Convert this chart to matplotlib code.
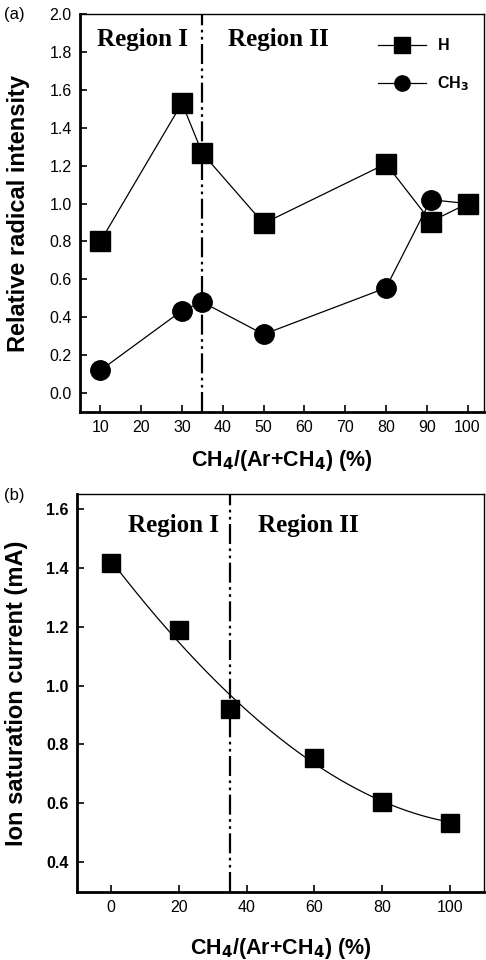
import numpy as np
import matplotlib
matplotlib.use("Agg")
import matplotlib.pyplot as plt
from matplotlib.lines import Line2D

# ---- data panel (a) ----
x_a = [10, 30, 35, 50, 80, 91, 100]
h_vals = [0.80, 1.53, 1.265, 0.895, 1.21, 0.905, 1.0]
ch3_vals = [0.12, 0.435, 0.48, 0.31, 0.555, 1.02, 1.0]
xticks_a = [10, 20, 30, 40, 50, 60, 70, 80, 90, 100]
yticks_a = [0.0, 0.2, 0.4, 0.6, 0.8, 1.0, 1.2, 1.4, 1.6, 1.8, 2.0]

# ---- data panel (b) ----
x_b = [0, 20, 35, 60, 80, 100]
ion_vals = [1.415, 1.19, 0.92, 0.755, 0.605, 0.535]
xticks_b = [0, 20, 40, 60, 80, 100]
yticks_b = [0.4, 0.6, 0.8, 1.0, 1.2, 1.4, 1.6]

boundary = 35

plt.rcParams['font.family'] = ['Liberation Sans', 'DejaVu Sans']

fig = plt.figure(figsize=(4.86, 9.6), dpi=100)
axa = fig.add_axes([0.1646, 0.5708, 0.831, 0.4146])
axb = fig.add_axes([0.1584, 0.0711, 0.8374, 0.4143])

dd = (9, 2, 1.2, 2, 1.2, 2)

# panel a
axa.plot(x_a, h_vals, color='black', lw=0.9, marker='s', ms=14, mfc='black', mec='black', zorder=3)
axa.plot(x_a, ch3_vals, color='black', lw=0.9, marker='o', ms=14, mfc='black', mec='black', zorder=3)
axa.axvline(boundary, color='black', lw=1.6, dashes=dd, zorder=2)
axa.set_xlim(5, 104)
axa.set_ylim(-0.1, 2.0)
axa.set_xticks(xticks_a)
axa.set_yticks(yticks_a)
axa.set_xticklabels([str(v) for v in xticks_a])
axa.set_yticklabels([f"{v:.1f}" for v in yticks_a])
axa.tick_params(direction='in', length=5, width=1.2, labelsize=11.5, pad=6)
axa.set_ylabel('Relative radical intensity', fontsize=17, fontweight='bold', labelpad=14)
axa.set_xlabel('CH$_\\mathbf{4}$/(Ar+CH$_\\mathbf{4}$) (%)', fontsize=15.5, fontweight='bold', labelpad=9)
axa.text(0.042, 0.935, 'Region I', transform=axa.transAxes, fontsize=18, fontweight='bold',
         family='Liberation Serif', va='center', ha='left')
axa.text(0.366, 0.935, 'Region II', transform=axa.transAxes, fontsize=18, fontweight='bold',
         family='Liberation Serif', va='center', ha='left')
handles = [Line2D([], [], color='black', lw=0.9, marker='s', ms=11),
           Line2D([], [], color='black', lw=0.9, marker='o', ms=11)]
axa.legend(handles, ['H', 'CH$_\\mathbf{3}$'], loc='upper right', frameon=False,
           handlelength=3.0, prop={'weight': 'bold', 'size': 11.5},
           bbox_to_anchor=(1.0, 0.975), labelspacing=1.3, handletextpad=0.7)

# panel b
coef = np.polyfit(x_b, ion_vals, 3)
xs = np.linspace(min(x_b), max(x_b), 200)
axb.plot(xs, np.polyval(coef, xs), color='black', lw=0.9, zorder=2)
axb.plot(x_b, ion_vals, ls='none', marker='s', ms=13, mfc='black', mec='black', zorder=3)
axb.axvline(boundary, color='black', lw=1.6, dashes=dd, zorder=2)
axb.set_xlim(-10, 110)
axb.set_ylim(0.3, 1.65)
axb.set_xticks(xticks_b)
axb.set_yticks(yticks_b)
axb.set_xticklabels([str(v) for v in xticks_b])
axb.set_yticklabels([f"{v:.1f}" for v in yticks_b], fontweight='bold')
axb.tick_params(direction='in', length=5, width=1.2, labelsize=11.5, pad=6)
axb.set_ylabel('Ion saturation current (mA)', fontsize=17, fontweight='bold', labelpad=13)
axb.set_xlabel('CH$_\\mathbf{4}$/(Ar+CH$_\\mathbf{4}$) (%)', fontsize=15.5, fontweight='bold', labelpad=15)
axb.text(0.125, 0.92, 'Region I', transform=axb.transAxes, fontsize=18, fontweight='bold',
         family='Liberation Serif', va='center', ha='left')
axb.text(0.445, 0.92, 'Region II', transform=axb.transAxes, fontsize=18, fontweight='bold',
         family='Liberation Serif', va='center', ha='left')

for ax in (axa, axb):
    for s in ('top', 'right'):
        ax.spines[s].set_linewidth(1.0)
    for s in ('left', 'bottom'):
        ax.spines[s].set_linewidth(2.0)

fig.text(0.008, 0.985, '(a)', fontsize=12, va='center', ha='left')
fig.text(0.008, 0.484, '(b)', fontsize=12, va='center', ha='left')

fig.savefig('out.png', dpi=100)
